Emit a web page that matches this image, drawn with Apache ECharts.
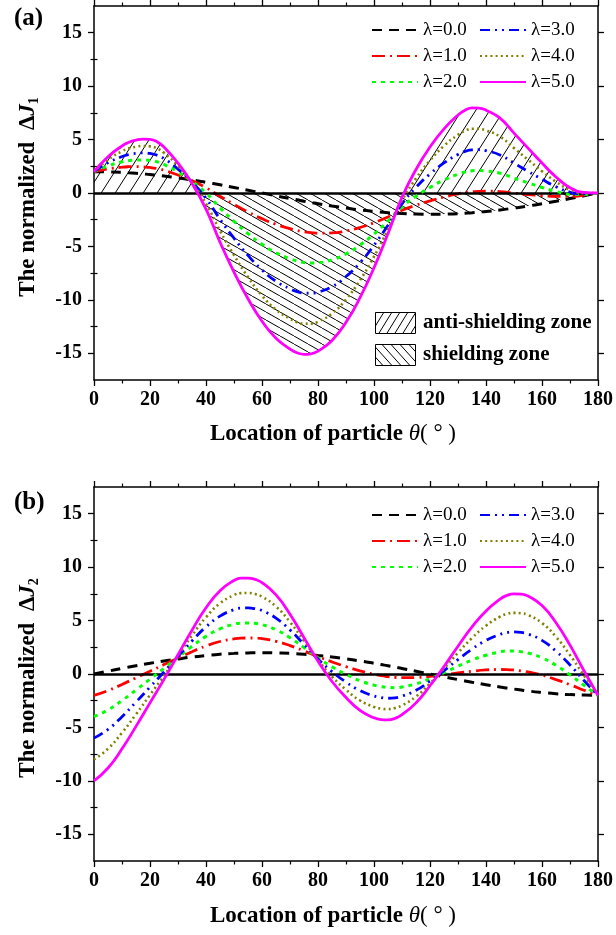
<!DOCTYPE html>
<html>
<head>
<meta charset="utf-8">
<script src="https://cdn.jsdelivr.net/npm/echarts@6/dist/echarts.min.js"></script>
<style>
html,body{margin:0;padding:0;background:#fff;}
#chart{width:616px;height:935px;}
</style>
</head>
<body>
<div id="chart"></div>
<script>
// ---------- data ----------
const thetaA = [0,5,10,12.5,15,17.5,20,22.5,25,30,35,40,45,50,55,60,65,70,72.5,75,77.5,80,85,90,95,100,105,110,115,120,125,130,132.5,135,137.5,140,145,150,155,160,165,170,175,180];
const thetaB = [0,5,10,15,20,25,30,35,40,45,50,52.5,55,57.5,60,65,70,75,80,85,90,95,100,102.5,105,107.5,110,115,120,125,130,135,140,145,147.5,150,152.5,155,160,165,170,175,180];
const yTicks = [-15,-10,-5,0,5,10,15];
const yMinorTicks = [-12.5,-7.5,-2.5,2.5,7.5,12.5];
const names = ['λ=0.0','λ=1.0','λ=2.0','λ=3.0','λ=4.0','λ=5.0'];

// panel (a): normalized ΔJ1 (values at thetaA)
const J1_l0 = [2.00,1.97,1.93,1.89,1.85,1.79,1.73,1.66,1.59,1.41,1.22,1.00,0.77,0.52,0.26,0.00,-0.26,-0.52,-0.64,-0.77,-0.88,-1.00,-1.22,-1.41,-1.59,-1.73,-1.85,-1.93,-1.97,-2.00,-1.97,-1.93,-1.89,-1.85,-1.79,-1.73,-1.59,-1.41,-1.22,-1.00,-0.77,-0.52,-0.26,0.00];
const J1_l1 = [2.00,2.26,2.42,2.46,2.47,2.44,2.39,2.29,2.13,1.69,1.16,0.50,-0.30,-1.06,-1.77,-2.40,-2.93,-3.34,-3.50,-3.64,-3.71,-3.76,-3.74,-3.55,-3.23,-2.78,-2.24,-1.62,-1.14,-0.74,-0.38,-0.08,0.04,0.11,0.16,0.17,0.13,-0.01,-0.14,-0.24,-0.32,-0.32,-0.20,0.00];
const J1_l2 = [2.00,2.54,2.92,3.03,3.09,3.09,3.05,2.92,2.67,1.97,1.09,0.00,-1.38,-2.65,-3.80,-4.80,-5.60,-6.15,-6.36,-6.50,-6.55,-6.52,-6.25,-5.69,-4.87,-3.84,-2.63,-1.32,-0.30,0.52,1.22,1.76,1.97,2.08,2.11,2.06,1.85,1.39,0.95,0.52,0.14,-0.11,-0.14,0.00];
const J1_l3 = [2.00,2.83,3.41,3.61,3.71,3.75,3.70,3.54,3.22,2.24,1.03,-0.50,-2.45,-4.23,-5.84,-7.20,-8.26,-8.97,-9.23,-9.37,-9.38,-9.28,-8.77,-7.82,-6.52,-4.89,-3.02,-1.01,0.53,1.78,2.81,3.61,3.89,4.04,4.05,3.96,3.56,2.80,2.03,1.28,0.59,0.09,-0.07,0.00];
const J1_l4 = [2.00,3.11,3.91,4.18,4.33,4.40,4.36,4.17,3.76,2.52,0.96,-1.00,-3.53,-5.82,-7.87,-9.60,-10.93,-11.78,-12.09,-12.23,-12.22,-12.04,-11.28,-9.96,-8.16,-5.95,-3.41,-0.71,1.37,3.04,4.41,5.45,5.82,6.01,6.00,5.85,5.28,4.20,3.12,2.04,1.05,0.30,-0.01,0.00];
const J1_l5 = [2.0,3.4,4.4,4.75,4.95,5.05,5.02,4.8,4.3,2.8,0.9,-1.5,-4.6,-7.4,-9.9,-12.0,-13.6,-14.6,-14.95,-15.1,-15.05,-14.8,-13.8,-12.1,-9.8,-7.0,-3.8,-0.4,2.2,4.3,6.0,7.3,7.75,7.97,7.95,7.75,7.0,5.6,4.2,2.8,1.5,0.5,0.05,0.0];

// panel (b): normalized ΔJ2 (values at thetaB)
const J2_l0 = [0.00,0.26,0.52,0.77,1.00,1.22,1.41,1.59,1.73,1.85,1.93,1.96,1.97,2.00,2.00,1.97,1.93,1.85,1.73,1.59,1.41,1.22,1.00,0.88,0.77,0.64,0.52,0.26,0.00,-0.26,-0.52,-0.77,-1.00,-1.22,-1.32,-1.41,-1.50,-1.59,-1.73,-1.85,-1.93,-1.97,-2.00];
const J2_l1 = [-2.00,-1.55,-0.98,-0.36,0.26,0.88,1.49,2.09,2.62,3.04,3.29,3.36,3.37,3.37,3.31,3.06,2.66,2.16,1.62,1.13,0.69,0.30,-0.02,-0.15,-0.24,-0.32,-0.34,-0.33,-0.22,-0.07,0.10,0.26,0.38,0.42,0.41,0.37,0.30,0.19,-0.10,-0.52,-1.00,-1.52,-2.00];
const J2_l2 = [-4.00,-3.36,-2.49,-1.50,-0.48,0.53,1.57,2.59,3.52,4.23,4.66,4.76,4.77,4.74,4.62,4.14,3.40,2.47,1.52,0.67,-0.03,-0.63,-1.04,-1.18,-1.26,-1.28,-1.21,-0.92,-0.44,0.12,0.73,1.30,1.76,2.07,2.15,2.15,2.09,1.97,1.52,0.81,-0.08,-1.06,-2.00];
const J2_l3 = [-6.00,-5.18,-3.99,-2.63,-1.22,0.19,1.64,3.10,4.41,5.42,6.02,6.17,6.18,6.11,5.93,5.23,4.13,2.78,1.41,0.22,-0.76,-1.55,-2.06,-2.21,-2.27,-2.23,-2.07,-1.52,-0.66,0.32,1.35,2.33,3.14,3.71,3.88,3.94,3.89,3.74,3.15,2.14,0.85,-0.61,-2.00];
const J2_l4 = [-8.00,-6.99,-5.50,-3.77,-1.96,-0.16,1.72,3.60,5.31,6.61,7.39,7.57,7.58,7.48,7.24,6.31,4.87,3.09,1.31,-0.24,-1.48,-2.48,-3.08,-3.24,-3.29,-3.19,-2.94,-2.11,-0.88,0.51,1.98,3.37,4.52,5.36,5.62,5.72,5.68,5.52,4.77,3.47,1.77,-0.15,-2.00];
const J2_l5 = [-10.0,-8.8,-7.0,-4.9,-2.7,-0.5,1.8,4.1,6.2,7.8,8.75,8.97,8.98,8.85,8.55,7.4,5.6,3.4,1.2,-0.7,-2.2,-3.4,-4.1,-4.27,-4.3,-4.15,-3.8,-2.7,-1.1,0.7,2.6,4.4,5.9,7.0,7.35,7.5,7.48,7.3,6.4,4.8,2.7,0.3,-2.0];

// ---------- styles ----------
const FONT = 'Liberation Serif';
const lineStyles = [
  {color:'#000000', width:3, type:[10,7]},
  {color:'#ff0000', width:2.8, type:[13,5,2,5]},
  {color:'#00ff00', width:3, type:[4,5]},
  {color:'#0000ff', width:2.8, type:[10,5,2,5,2,5]},
  {color:'#808000', width:2.6, type:[2,3.2]},
  {color:'#ff00ff', width:2.8, type:'solid'}
];

function hatch(w, h, dir) {
  const c = document.createElement('canvas');
  c.width = w; c.height = h;
  const ctx = c.getContext('2d');
  ctx.strokeStyle = '#000';
  ctx.lineWidth = 1;
  for (let k = -1; k <= 1; k++) {
    ctx.beginPath();
    if (dir > 0) { ctx.moveTo(k*w, h); ctx.lineTo((k+1)*w, 0); }
    else { ctx.moveTo(k*w, 0); ctx.lineTo((k+1)*w, h); }
    ctx.stroke();
  }
  return c;
}
const antiPat = hatch(14, 22, 1);
const shieldPat = hatch(14, 8, -1);
const antiLegPat = hatch(8, 13, 1);
const shieldLegPat = hatch(9, 10, -1);

const grids = [
  {left:94, top:6, width:509, height:374},
  {left:94, top:487, width:509, height:374}
];

const xAxis = [], yAxis = [];
grids.forEach((g, gi) => {
  const base = {
    gridIndex: gi, type:'value', min:0, max:180, interval:20,
    axisLine:{show:true, onZero:false, lineStyle:{color:'#000', width:1.5}},
    axisTick:{show:true, inside:false, length:6, lineStyle:{color:'#000', width:1.3}},
    minorTick:{show:true, splitNumber:2, length:3.5, lineStyle:{color:'#000', width:1.2}},
    splitLine:{show:false}, minorSplitLine:{show:false}
  };
  xAxis.push(Object.assign({}, base, {
    position:'bottom',
    axisLabel:{show:true, margin:10, fontFamily:FONT, fontWeight:'bold', fontSize:20, color:'#000'}
  }));
  xAxis.push(Object.assign({}, base, {position:'top', axisLabel:{show:false}}));
  const ybase = {
    gridIndex: gi, type:'value', min:-17.5, max:17.5, interval:2.5,
    splitLine:{show:false}
  };
  yAxis.push(Object.assign({}, ybase, {
    position:'left',
    axisLine:{show:true, onZero:false, lineStyle:{color:'#000', width:1.5}},
    axisTick:{show:true, inside:false, length:6, customValues: yTicks, lineStyle:{color:'#000', width:1.3}},
    axisLabel:{show:true, margin:12, customValues: yTicks, fontFamily:FONT, fontWeight:'bold', fontSize:20, color:'#000'}
  }));
  yAxis.push(Object.assign({}, ybase, {
    position:'left',
    axisLine:{show:false},
    axisTick:{show:true, inside:false, length:3.5, customValues: yMinorTicks, lineStyle:{color:'#000', width:1.2}},
    axisLabel:{show:false}
  }));
  yAxis.push(Object.assign({}, ybase, {
    position:'right',
    axisLine:{show:true, onZero:false, lineStyle:{color:'#000', width:1.5}},
    axisTick:{show:true, inside:false, length:6, customValues: yTicks, lineStyle:{color:'#000', width:1.3}},
    axisLabel:{show:false}
  }));
  yAxis.push(Object.assign({}, ybase, {
    position:'right',
    axisLine:{show:false},
    axisTick:{show:true, inside:false, length:3.5, customValues: yMinorTicks, lineStyle:{color:'#000', width:1.2}},
    axisLabel:{show:false}
  }));
});

function pts(xs, arr) { return xs.map((t, i) => [t, arr[i]]); }

const SMOOTH = 0.5;
const series = [];
const antiVals = J1_l5.map(v => Math.max(v, 0));
const shieldVals = J1_l5.map((v, i) => Math.min(v, J1_l0[i], 0));
series.push({
  name:'anti-shielding zone', type:'line', xAxisIndex:0, yAxisIndex:0, data:pts(thetaA, antiVals),
  smooth:SMOOTH, symbol:'none', silent:true, z:1,
  lineStyle:{width:0, opacity:0},
  areaStyle:{color:{image:antiPat, repeat:'repeat'}, opacity:1}
});
series.push({
  name:'shielding zone', type:'line', xAxisIndex:0, yAxisIndex:0, data:pts(thetaA, shieldVals),
  smooth:SMOOTH, symbol:'none', silent:true, z:1,
  lineStyle:{width:0, opacity:0},
  areaStyle:{color:{image:shieldPat, repeat:'repeat'}, opacity:1}
});

const panels = [
  {xs: thetaA, arrs: [J1_l0, J1_l1, J1_l2, J1_l3, J1_l4, J1_l5]},
  {xs: thetaB, arrs: [J2_l0, J2_l1, J2_l2, J2_l3, J2_l4, J2_l5]}
];
panels.forEach((p, gi) => {
  p.arrs.forEach((arr, k) => {
    const s = {
      name: names[k], type:'line', xAxisIndex: gi*2, yAxisIndex: gi*4,
      data: pts(p.xs, arr), smooth:SMOOTH, symbol:'none', showSymbol:false, z: 3 + k,
      itemStyle:{color: lineStyles[k].color},
      lineStyle: Object.assign({cap:'butt'}, lineStyles[k])
    };
    if (k === 0) {
      s.markLine = {
        silent:true, symbol:'none', label:{show:false},
        lineStyle:{color:'#000', width:2.6, type:'solid'},
        data:[{yAxis:0}]
      };
    }
    series.push(s);
  });
});

const legendText = {fontFamily:FONT, fontSize:19, color:'#000', lineHeight:20};
function legend(data, left, top) {
  return {data, orient:'vertical', left, top, itemWidth:46, itemHeight:14, itemGap:6,
          padding:0, selectedMode:false, textStyle:legendText,
          itemStyle:{opacity:0, color:'rgba(0,0,0,0)', borderWidth:0}};
}

const bold = {fontFamily:FONT, fontWeight:'bold', fill:'#000'};
function yTitle(cy, sub) {
  return {
    type:'text', x:28, y:cy, rotation:Math.PI/2, silent:true,
    style:{
      text:'{n|The normalized  Δ}{j|J}{s|' + sub + '}',
      align:'center', verticalAlign:'middle',
      rich:{
        n:{fontFamily:FONT, fontWeight:'bold', fontSize:23, fill:'#000', color:'#000', lineHeight:26},
        j:{fontFamily:FONT, fontWeight:'bold', fontStyle:'italic', fontSize:23, fill:'#000', color:'#000', lineHeight:26},
        s:{fontFamily:FONT, fontWeight:'bold', fontSize:14, fill:'#000', color:'#000', lineHeight:14, verticalAlign:'bottom'}
      }
    }
  };
}
function xTitle(cy) {
  return {
    type:'text', x:333, y:cy, silent:true,
    style:{
      text:'{a|Location of particle }{b|θ}{c|( ° )}',
      align:'center', verticalAlign:'middle',
      rich:{
        a:{fontFamily:FONT, fontWeight:'bold', fontSize:23, fill:'#000', color:'#000'},
        b:{fontFamily:FONT, fontStyle:'italic', fontSize:23, fill:'#000', color:'#000'},
        c:{fontFamily:FONT, fontSize:23, fill:'#000', color:'#000'}
      }
    }
  };
}

const graphic = [
  {type:'text', x:14, y:19, silent:true, style:Object.assign({text:'(a)', fontSize:25, verticalAlign:'middle'}, bold)},
  {type:'text', x:14, y:503, silent:true, style:Object.assign({text:'(b)', fontSize:25, verticalAlign:'middle'}, bold)},
  yTitle(197, '1'),
  yTitle(678, '2'),
  xTitle(434),
  xTitle(916),
  {type:'rect', shape:{x:375.5, y:312.5, width:40, height:21}, silent:true, z:10,
   style:{fill:{image:antiLegPat, repeat:'repeat'}, stroke:'#000', lineWidth:1}},
  {type:'rect', shape:{x:375.5, y:344.5, width:40, height:21}, silent:true, z:10,
   style:{fill:{image:shieldLegPat, repeat:'repeat'}, stroke:'#000', lineWidth:1}},
  {type:'text', x:423, y:323, silent:true, z:10, style:Object.assign({text:'anti-shielding zone', fontSize:21, verticalAlign:'middle'}, bold)},
  {type:'text', x:423, y:355, silent:true, z:10, style:Object.assign({text:'shielding zone', fontSize:21, verticalAlign:'middle'}, bold)}
];

const option = {
  animation:false,
  backgroundColor:'#fff',
  grid: grids,
  xAxis, yAxis, series,
  legend:[
    legend(['λ=0.0','λ=1.0','λ=2.0'], 371, 20),
    legend(['λ=3.0','λ=4.0','λ=5.0'], 479, 20),
    legend(['λ=0.0','λ=1.0','λ=2.0'], 371, 505),
    legend(['λ=3.0','λ=4.0','λ=5.0'], 479, 505)
  ],
  graphic
};
const chart = echarts.init(document.getElementById('chart'), null, {renderer:'canvas'});
chart.setOption(option);
</script>
</body>
</html>
